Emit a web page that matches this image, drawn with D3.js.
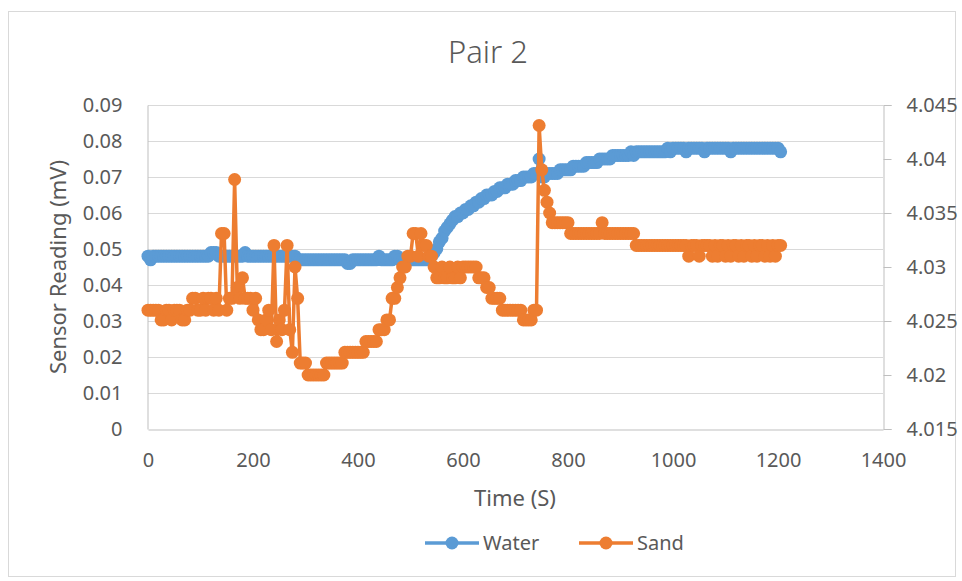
<!DOCTYPE html>
<html>
<head>
<meta charset="utf-8">
<script src="https://cdn.jsdelivr.net/npm/d3@7"></script>
<style>
  body { margin: 0; background: #fff; }
  text { font-family: "Noto Sans", "Open Sans", sans-serif; fill: #595959; }
</style>
</head>
<body>
<svg id="chart" width="962" height="581"></svg>
<script>
// Sample times in seconds
const timeSec = [
  0,5,10,15,20,25,30,35,40,45,50,55,60,65,70,75,80,85,90,95,
  100,105,110,115,120,125,130,135,140,145,150,155,160,165,170,175,180,185,190,195,
  200,205,210,215,220,225,230,235,240,245,250,255,260,265,270,275,280,285,290,295,
  300,305,310,315,320,325,330,335,340,345,350,355,360,365,370,375,380,385,390,395,
  400,405,410,415,420,425,430,435,440,445,450,455,460,465,470,475,480,485,490,495,
  500,505,510,515,520,525,530,535,540,545,550,555,560,565,570,575,580,585,590,595,
  600,605,610,615,620,625,630,635,640,645,650,655,660,665,670,675,680,685,690,695,
  700,705,710,715,720,725,730,735,740,745,750,755,760,765,770,775,780,785,790,795,
  800,805,810,815,820,825,830,835,840,845,850,855,860,865,870,875,880,885,890,895,
  900,905,910,915,920,925,930,935,940,945,950,955,960,965,970,975,980,985,990,995,
  1000,1005,1010,1015,1020,1025,1030,1035,1040,1045,1050,1055,1060,1065,1070,1075,1080,1085,1090,1095,
  1100,1105,1110,1115,1120,1125,1130,1135,1140,1145,1150,1155,1160,1165,1170,1175,1180,1185,1190,1195,
  1200,1205
];

// Water sensor reading (mV), primary axis
const water = [
  .048,.047,.048,.048,.048,.048,.048,.048,.048,.048,.048,.048,.048,.048,.048,.048,.048,.048,.048,.048,
  .048,.048,.048,.048,.049,.049,.049,.048,.048,.048,.048,.048,.048,.048,.048,.048,.048,.049,.048,.048,
  .048,.048,.048,.048,.048,.048,.048,.048,.048,.048,.048,.048,.048,.048,.048,.048,.048,.047,.047,.047,
  .047,.047,.047,.047,.047,.047,.047,.047,.047,.047,.047,.047,.047,.047,.047,.047,.046,.046,.047,.047,
  .047,.047,.047,.047,.047,.047,.047,.047,.048,.047,.047,.047,.047,.047,.048,.048,.047,.047,.047,.047,
  .047,.047,.047,.047,.047,.047,.047,.047,.048,.049,.050,.052,.053,.055,.056,.057,.058,.059,.059,.060,
  .060,.061,.061,.062,.062,.063,.063,.064,.064,.065,.065,.065,.066,.066,.067,.067,.067,.068,.068,.068,
  .069,.069,.069,.070,.070,.070,.070,.071,.071,.075,.070,.070,.071,.071,.071,.071,.071,.072,.072,.072,
  .072,.072,.073,.073,.073,.073,.073,.074,.074,.074,.074,.074,.075,.075,.075,.075,.075,.076,.076,.076,
  .076,.076,.076,.076,.077,.076,.077,.077,.077,.077,.077,.077,.077,.077,.077,.077,.077,.077,.078,.077,
  .078,.078,.078,.078,.078,.077,.078,.078,.078,.078,.078,.078,.077,.078,.078,.078,.078,.078,.078,.078,
  .078,.078,.077,.078,.078,.078,.078,.078,.078,.078,.078,.078,.078,.078,.078,.078,.078,.078,.078,.078,
  .078,.077
];

// Sand sensor reading, secondary axis
const sand = [
  4.026,4.026,4.026,4.026,4.026,4.0251,4.0251,4.026,4.026,4.0251,4.026,4.026,4.026,4.0251,4.0251,4.026,4.026,4.0271,4.0271,4.026,
  4.026,4.0271,4.026,4.0271,4.0271,4.026,4.0271,4.026,4.0331,4.0331,4.026,4.0271,4.0271,4.0381,4.0281,4.0271,4.029,4.0271,4.0271,4.0271,
  4.026,4.0271,4.0251,4.0242,4.0242,4.0251,4.026,4.0242,4.032,4.0231,4.0251,4.0242,4.026,4.032,4.0242,4.0221,4.030,4.0271,4.0211,4.0211,
  4.0211,4.020,4.020,4.020,4.020,4.020,4.020,4.020,4.0211,4.0211,4.0211,4.0211,4.0211,4.0211,4.0211,4.0221,4.0221,4.0221,4.0221,4.0221,
  4.0221,4.0221,4.0221,4.0231,4.0231,4.0231,4.0231,4.0231,4.0242,4.0242,4.0242,4.0251,4.0251,4.0271,4.0271,4.0281,4.029,4.030,4.030,4.031,
  4.031,4.0331,4.0331,4.031,4.0331,4.032,4.032,4.031,4.031,4.030,4.029,4.029,4.030,4.029,4.029,4.030,4.029,4.029,4.030,4.029,
  4.030,4.030,4.030,4.030,4.030,4.030,4.029,4.029,4.029,4.0281,4.0281,4.0271,4.0271,4.0271,4.0271,4.026,4.026,4.026,4.026,4.026,
  4.026,4.026,4.026,4.0251,4.0251,4.0251,4.0251,4.026,4.026,4.0431,4.039,4.0371,4.036,4.035,4.0341,4.0341,4.0341,4.0341,4.0341,4.0341,
  4.0341,4.0331,4.0331,4.0331,4.0331,4.0331,4.0331,4.0331,4.0331,4.0331,4.0331,4.0331,4.0331,4.0341,4.0331,4.0331,4.0331,4.0331,4.0331,4.0331,
  4.0331,4.0331,4.0331,4.0331,4.0331,4.0331,4.032,4.032,4.032,4.032,4.032,4.032,4.032,4.032,4.032,4.032,4.032,4.032,4.032,4.032,
  4.032,4.032,4.032,4.032,4.032,4.032,4.031,4.032,4.032,4.032,4.031,4.032,4.032,4.032,4.032,4.031,4.032,4.031,4.032,4.032,
  4.031,4.032,4.031,4.032,4.032,4.031,4.032,4.031,4.032,4.032,4.031,4.032,4.031,4.032,4.032,4.031,4.032,4.031,4.032,4.031,
  4.032,4.032
];

const xTicks = [0, 200, 400, 600, 800, 1000, 1200, 1400];
const leftTicks = [0, 0.01, 0.02, 0.03, 0.04, 0.05, 0.06, 0.07, 0.08, 0.09];
const rightTicks = [4.015, 4.02, 4.025, 4.03, 4.035, 4.04, 4.045];

const seriesNames = ["Water", "Sand"];
const seriesColors = ["#5b9bd5", "#ed7d31"];

const svg = d3.select("#chart");
const plot = { left: 148, right: 883, top: 105, bottom: 429 };

// Chart frame
svg.append("rect")
  .attr("x", 8.5).attr("y", 11.5)
  .attr("width", 947).attr("height", 565)
  .attr("fill", "#fff").attr("stroke", "#d9d9d9").attr("stroke-width", 1);

const x = d3.scaleLinear().domain([0, 1400]).range([plot.left, plot.right]);
const yL = d3.scaleLinear().domain([0, 0.09]).range([plot.bottom, plot.top]);
const yR = d3.scaleLinear().domain([4.015, 4.045]).range([plot.bottom, plot.top]);

const trim = d => String(+d.toFixed(3));

// Horizontal gridlines
svg.append("g")
  .selectAll("line")
  .data(leftTicks.filter(d => d > 0))
  .join("line")
  .attr("x1", plot.left).attr("x2", plot.right)
  .attr("y1", d => Math.round(yL(d)) + 0.5).attr("y2", d => Math.round(yL(d)) + 0.5)
  .attr("stroke", "#d9d9d9").attr("stroke-width", 1);

// Axes
const axisStyle = g => {
  g.selectAll(".domain").attr("stroke", "#bfbfbf");
  g.selectAll(".tick line").attr("stroke", "#bfbfbf");
  g.selectAll("text").attr("font-size", 20).attr("fill", "#595959")
    .style("font-family", '"Noto Sans", sans-serif');
};

svg.append("g")
  .attr("transform", `translate(0,${plot.bottom + 0.5})`)
  .call(d3.axisBottom(x).tickValues(xTicks).tickFormat(d3.format("d")).tickSize(0).tickPadding(23))
  .call(axisStyle);

svg.append("g")
  .attr("transform", `translate(${plot.left - 0.5},0)`)
  .call(d3.axisLeft(yL).tickValues(leftTicks).tickFormat(trim).tickSize(0).tickPadding(25))
  .call(axisStyle);

svg.append("g")
  .attr("transform", `translate(${plot.right + 0.5},0)`)
  .call(d3.axisRight(yR).tickValues(rightTicks).tickFormat(trim).tickSize(8).tickSizeOuter(8).tickPadding(15))
  .call(axisStyle);

// Series
const waterData = timeSec.map((t, i) => [t, water[i]]);
const sandData = timeSec.map((t, i) => [t, sand[i]]);

function drawSeries(data, yScale, color) {
  const g = svg.append("g");
  g.append("path")
    .datum(data)
    .attr("fill", "none")
    .attr("stroke", color)
    .attr("stroke-width", 3.5)
    .attr("stroke-linejoin", "round")
    .attr("d", d3.line().x(d => x(d[0])).y(d => yScale(d[1])));
  g.selectAll("circle")
    .data(data)
    .join("circle")
    .attr("cx", d => x(d[0]))
    .attr("cy", d => yScale(d[1]))
    .attr("r", 6.5)
    .attr("fill", color);
}
drawSeries(waterData, yL, seriesColors[0]);
drawSeries(sandData, yR, seriesColors[1]);

// Title
svg.append("text")
  .attr("x", 488).attr("y", 63)
  .attr("text-anchor", "middle")
  .attr("font-size", 31)
  .style("font-weight", 300)
  .text("Pair 2");

// Axis titles
svg.append("text")
  .attr("x", 515).attr("y", 506)
  .attr("text-anchor", "middle")
  .attr("font-size", 22)
  .text("Time (S)");

svg.append("text")
  .attr("transform", "translate(66,267) rotate(-90)")
  .attr("text-anchor", "middle")
  .attr("font-size", 22)
  .text("Sensor Reading (mV)");

// Legend
const legendX = [425, 579];
const legend = svg.append("g");
seriesNames.forEach((name, i) => {
  const lx = legendX[i];
  legend.append("line")
    .attr("x1", lx).attr("x2", lx + 54)
    .attr("y1", 543).attr("y2", 543)
    .attr("stroke", seriesColors[i]).attr("stroke-width", 3.5);
  legend.append("circle")
    .attr("cx", lx + 27).attr("cy", 543).attr("r", 6.5)
    .attr("fill", seriesColors[i]);
  legend.append("text")
    .attr("x", lx + 58).attr("y", 543).attr("dy", "0.35em")
    .attr("font-size", 20)
    .text(name);
});
</script>
</body>
</html>
